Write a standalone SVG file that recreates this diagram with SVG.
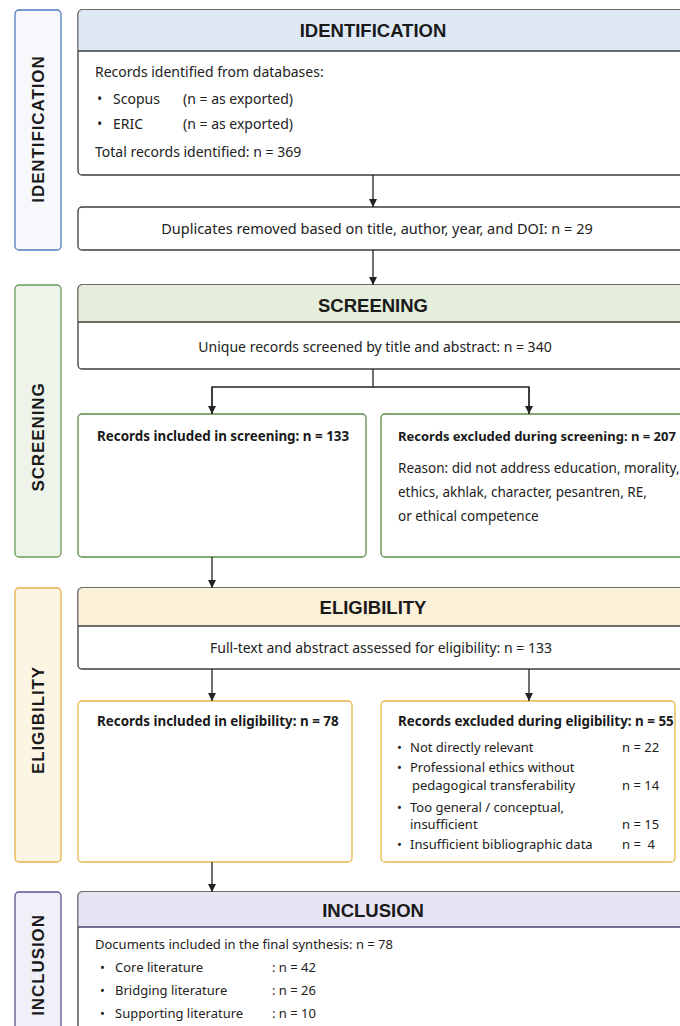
<svg xmlns="http://www.w3.org/2000/svg" width="680" height="1026" viewBox="0 0 680 1026">
<defs>
<marker id="ah" viewBox="0 0 10 10" refX="10" refY="5" markerWidth="8" markerHeight="8" markerUnits="userSpaceOnUse" orient="auto">
<path d="M0,0 L10,5 L0,10 z" fill="#222"/>
</marker>
<style>
.body{font-family:"Noto Sans","Open Sans",sans-serif;font-size:13px;fill:#222}
.b14{font-size:14px}
.bold{font-family:"Noto Sans","Open Sans",sans-serif;font-size:13.4px;font-weight:bold;fill:#1a1a1a}
.hdr{font-family:"Liberation Sans",Arial,sans-serif;font-size:18.5px;font-weight:bold;fill:#1a1a1a;text-anchor:middle}
.side{font-family:"Liberation Sans",Arial,sans-serif;font-size:17px;font-weight:bold;fill:#1a1a1a;text-anchor:middle;letter-spacing:0.9px}
.main{fill:#fff;stroke:#3c3c3c;stroke-width:1.3}
.conn{stroke:#222;stroke-width:1.3;fill:none}
</style>
</defs>
<rect width="680" height="1026" fill="#fff"/>

<g id="side-identification">
<rect x="15" y="10" width="46" height="240" rx="4" fill="#f6f8fc" stroke="#4d7cc0" stroke-width="1.3"/>
<text class="side" transform="translate(44,129) rotate(-90)">IDENTIFICATION</text>
</g>
<g id="side-screening">
<rect x="15" y="285" width="46" height="272" rx="4" fill="#eef4ea" stroke="#6a9a5a" stroke-width="1.3"/>
<text class="side" transform="translate(44,437) rotate(-90)">SCREENING</text>
</g>
<g id="side-eligibility">
<rect x="15" y="588" width="46" height="274" rx="4" fill="#fdf5e4" stroke="#e6b04a" stroke-width="1.3"/>
<text class="side" transform="translate(44,720) rotate(-90)">ELIGIBILITY</text>
</g>
<g id="side-inclusion">
<rect x="15" y="892" width="46" height="150" rx="4" fill="#f1eff8" stroke="#5e5290" stroke-width="1.3"/>
<text class="side" transform="translate(44,965) rotate(-90)">INCLUSION</text>
</g>

<g id="identification">
<rect class="main" x="78" y="10" width="620" height="165" rx="4"/>
<path d="M78.6,51 V14 a4,4 0 0 1 4,-4 H698 V51 z" fill="#dfe9f6"/>
<line x1="78" y1="51" x2="698" y2="51" stroke="#3c3c3c" stroke-width="1.3"/>
<text class="hdr" x="373" y="37">IDENTIFICATION</text>
<text class="body b14" x="95" y="77">Records identified from databases:</text>
<text class="body b14" x="97" y="104">•</text><text class="body b14" x="113" y="104">Scopus</text><text class="body b14" x="183" y="104">(n = as exported)</text>
<text class="body b14" x="97" y="129">•</text><text class="body b14" x="113" y="129">ERIC</text><text class="body b14" x="183" y="129">(n = as exported)</text>
<text class="body b14" x="95" y="157">Total records identified: n = 369</text>
</g>

<g id="duplicates">
<rect class="main" x="78" y="207" width="620" height="43" rx="4"/>
<text class="body" style="font-size:14.5px" x="377" y="234" text-anchor="middle">Duplicates removed based on title, author, year, and DOI: n = 29</text>
</g>

<g id="screening">
<rect class="main" x="78" y="285" width="620" height="84" rx="4"/>
<path d="M78.6,322 V289 a4,4 0 0 1 4,-4 H698 V322 z" fill="#e4eedb"/>
<line x1="78" y1="322" x2="698" y2="322" stroke="#3c3c3c" stroke-width="1.3"/>
<text class="hdr" x="373" y="312">SCREENING</text>
<text class="body b14" x="375" y="352" text-anchor="middle">Unique records screened by title and abstract: n = 340</text>
</g>

<g id="screening-included">
<rect x="78" y="414" width="288" height="143" rx="4" fill="#fff" stroke="#5a8a4a" stroke-width="1.3"/>
<text class="bold" x="97" y="441">Records included in screening: n = 133</text>
</g>

<g id="screening-excluded">
<rect x="381" y="414" width="317" height="143" rx="4" fill="#fff" stroke="#5a8a4a" stroke-width="1.3"/>
<text class="bold" style="font-size:13px" x="398" y="441">Records excluded during screening: n = 207</text>
<text class="body" style="font-size:13.5px" x="398" y="473">Reason: did not address education, morality,</text>
<text class="body" style="font-size:13.5px" x="398" y="497">ethics, akhlak, character, pesantren, RE,</text>
<text class="body" style="font-size:13.5px" x="398" y="521">or ethical competence</text>
</g>

<g id="eligibility">
<rect class="main" x="78" y="588" width="620" height="81" rx="4"/>
<path d="M78.6,626 V592 a4,4 0 0 1 4,-4 H698 V626 z" fill="#fbf0d8"/>
<line x1="78" y1="626" x2="698" y2="626" stroke="#3c3c3c" stroke-width="1.3"/>
<text class="hdr" x="373" y="614">ELIGIBILITY</text>
<text class="body b14" x="381" y="653" text-anchor="middle">Full-text and abstract assessed for eligibility: n = 133</text>
</g>

<g id="eligibility-included">
<rect x="78" y="701" width="274" height="161" rx="4" fill="#fff" stroke="#e8b54a" stroke-width="1.3"/>
<text class="bold" x="97" y="726">Records included in eligibility: n = 78</text>
</g>

<g id="eligibility-excluded">
<rect x="381" y="701" width="294" height="161" rx="4" fill="#fff" stroke="#e8b54a" stroke-width="1.3"/>
<text class="bold" x="398" y="726">Records excluded during eligibility: n = 55</text>
<text class="body" x="397" y="752">•</text><text class="body" x="410" y="752">Not directly relevant</text><text class="body" x="622" y="752">n = 22</text>
<text class="body" x="397" y="772">•</text><text class="body" x="410" y="772">Professional ethics without</text>
<text class="body" x="412" y="790">pedagogical transferability</text><text class="body" x="622" y="790">n = 14</text>
<text class="body" x="397" y="812">•</text><text class="body" x="410" y="812">Too general / conceptual,</text>
<text class="body" x="410" y="829">insufficient</text><text class="body" x="622" y="829">n = 15</text>
<text class="body" x="397" y="849">•</text><text class="body" x="410" y="849">Insufficient bibliographic data</text><text class="body" x="622" y="849" xml:space="preserve">n =  4</text>
</g>

<g id="inclusion">
<rect class="main" x="78" y="892" width="620" height="150" rx="4" stroke="#4b4470"/>
<path d="M78.6,927 V896 a4,4 0 0 1 4,-4 H698 V927 z" fill="#e8e4f4"/>
<line x1="78" y1="927" x2="698" y2="927" stroke="#4b4470" stroke-width="1.3"/>
<text class="hdr" x="373" y="917">INCLUSION</text>
<text class="body" x="95" y="949">Documents included in the final synthesis: n = 78</text>
<text class="body" x="100" y="972">•</text><text class="body" x="115" y="972">Core literature</text><text class="body" x="272" y="972">: n = 42</text>
<text class="body" x="100" y="995">•</text><text class="body" x="115" y="995">Bridging literature</text><text class="body" x="272" y="995">: n = 26</text>
<text class="body" x="100" y="1018">•</text><text class="body" x="115" y="1018">Supporting literature</text><text class="body" x="272" y="1018">: n = 10</text>
</g>

<g id="connectors">
<line class="conn" x1="373" y1="175" x2="373" y2="207" marker-end="url(#ah)"/>
<line class="conn" x1="373" y1="250" x2="373" y2="285" marker-end="url(#ah)"/>
<polyline class="conn" points="373,369 373,387"/>
<polyline class="conn" points="212,414 212,387 529,387 529,414"/>
<line class="conn" x1="212" y1="387" x2="212" y2="414" marker-end="url(#ah)"/>
<line class="conn" x1="529" y1="387" x2="529" y2="414" marker-end="url(#ah)"/>
<line class="conn" x1="212" y1="557" x2="212" y2="588" marker-end="url(#ah)"/>
<line class="conn" x1="212" y1="669" x2="212" y2="701" marker-end="url(#ah)"/>
<line class="conn" x1="529" y1="669" x2="529" y2="701" marker-end="url(#ah)"/>
<line class="conn" x1="212" y1="862" x2="212" y2="892" marker-end="url(#ah)"/>
</g>
</svg>
